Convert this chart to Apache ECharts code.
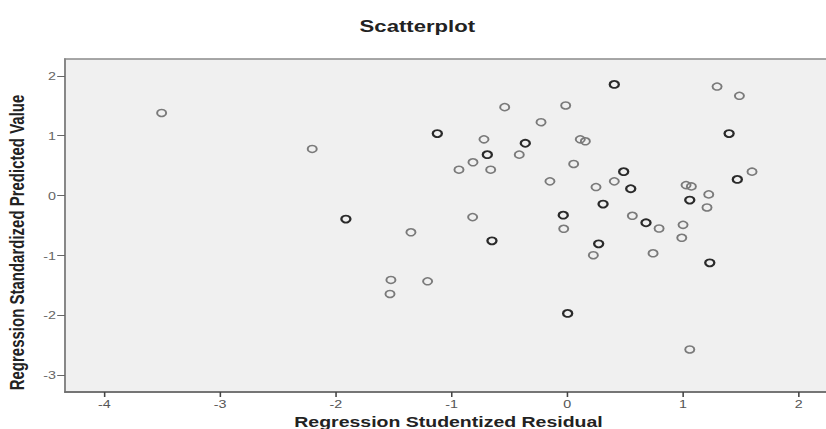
<!DOCTYPE html>
<html>
<head>
<meta charset="utf-8">
<script src="https://cdn.jsdelivr.net/npm/echarts@6/dist/echarts.min.js"></script>
<style>
  html, body { margin: 0; padding: 0; overflow: hidden; background: #fff; width: 826px; height: 429px; }
  #chart { width: 636px; height: 429px; transform: scaleX(1.3); transform-origin: 0 0; }
</style>
</head>
<body>
<div id="chart"></div>
<script>
// Tick labels
const xTicks = [-4, -3, -2, -1, 0, 1, 2];
const yTicks = [-3, -2, -1, 0, 1, 2];

// Single cases (light circles): [studentized residual, standardized predicted]
const singlePoints = [
  [-3.505, 1.38], [-2.204, 0.78], [-1.351, -0.61], [1.294, 1.82], [1.487, 1.666],
  [-0.541, 1.477], [-0.014, 1.505], [-0.227, 1.226], [-0.72, 0.94], [0.112, 0.94],
  [0.156, 0.908], [-0.415, 0.685], [-0.815, 0.557], [-0.936, 0.434], [-0.662, 0.434],
  [0.055, 0.529], [1.596, 0.401], [-0.15, 0.239], [0.248, 0.144], [0.406, 0.239],
  [1.026, 0.177], [1.072, 0.155], [1.222, 0.022], [1.207, -0.196], [-0.818, -0.357],
  [0.562, -0.335], [0.793, -0.547], [1.0, -0.486], [-0.031, -0.552], [0.989, -0.702],
  [0.225, -0.993], [0.741, -0.96], [-1.207, -1.428], [1.058, -2.565], [-1.524, -1.405],
  [-1.532, -1.639]
];

// Overlapping cases (dark circles)
const overlapPoints = [
  [-1.913, -0.39], [0.406, 1.856], [-1.123, 1.036], [1.398, 1.036], [-0.363, 0.874],
  [-0.691, 0.685], [0.487, 0.401], [1.469, 0.272], [0.548, 0.117], [1.058, -0.073],
  [0.309, -0.14], [-0.035, -0.324], [0.68, -0.452], [-0.651, -0.753], [0.271, -0.803],
  [1.231, -1.12], [0.003, -1.963]
];

const chart = echarts.init(document.getElementById('chart'), null, { renderer: 'svg' });
const font = 'Liberation Sans, Arial, sans-serif';
chart.setOption({
  animation: false,
  backgroundColor: '#ffffff',
  title: {
    text: 'Scatterplot',
    left: 316,
    textAlign: 'center',
    top: 12,
    textStyle: { fontFamily: font, fontWeight: 'bold', fontSize: 17, color: '#222' }
  },
  grid: {
    left: 50, right: -4, top: 59, bottom: 37,
    outerBoundsMode: 'none', containLabel: false,
    show: true, backgroundColor: '#f0f0f0', borderColor: '#8a8a8a', borderWidth: 1.5
  },
  xAxis: {
    type: 'value', min: -4.34, max: 2.287,
    name: 'Regression Studentized Residual',
    nameLocation: 'middle', nameGap: 22, nameMoveOverlap: false,
    nameTextStyle: { fontFamily: font, fontWeight: 'bold', fontSize: 15, color: '#222', lineHeight: 15 },
    axisLine: { show: true, onZero: false, lineStyle: { color: '#666', width: 1.5 } },
    axisTick: { show: true, customValues: xTicks, length: 5, lineStyle: { color: '#444', width: 1.2 } },
    axisLabel: { customValues: xTicks, fontFamily: font, fontSize: 11, color: '#555', margin: 6, lineHeight: 12 },
    splitLine: { show: false }
  },
  yAxis: {
    type: 'value', min: -3.274, max: 2.28,
    name: 'Regression Standardized Predicted Value',
    nameLocation: 'middle', nameGap: 29,
    nameTextStyle: { fontFamily: font, fontWeight: 'bold', fontSize: 15, color: '#222', padding: [0, 34, 0, 0] },
    axisLine: { show: true, onZero: false, lineStyle: { color: '#888', width: 1.5 } },
    axisTick: { show: true, customValues: yTicks, length: 6, lineStyle: { color: '#666', width: 1 } },
    axisLabel: { customValues: yTicks, fontFamily: font, fontSize: 11, color: '#666', margin: 7 },
    splitLine: { show: false }
  },
  series: [
    {
      type: 'scatter', data: singlePoints, symbol: 'circle', symbolSize: 7,
      itemStyle: { color: 'rgba(0,0,0,0)', borderColor: '#7a7a7a', borderWidth: 1.5, opacity: 1 }
    },
    {
      type: 'scatter', data: overlapPoints, symbol: 'circle', symbolSize: 7,
      itemStyle: { color: 'rgba(0,0,0,0)', borderColor: '#2a2a2a', borderWidth: 1.8, opacity: 1 }
    }
  ]
});
</script>
</body>
</html>
